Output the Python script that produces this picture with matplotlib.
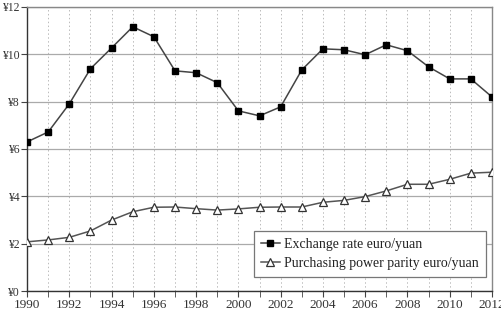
import matplotlib.pyplot as plt
from matplotlib.ticker import MultipleLocator

plt.rcParams['font.family'] = ['Liberation Serif', 'DejaVu Serif']

# data
years = list(range(1990, 2013))
exchange_rate = [6.30, 6.72, 7.91, 9.39, 10.27, 11.16, 10.74, 9.30, 9.22, 8.80, 7.61,
                 7.40, 7.78, 9.34, 10.23, 10.19, 9.98, 10.40, 10.15, 9.47, 8.96, 8.96, 8.20]
ppp = [2.08, 2.16, 2.27, 2.54, 3.00, 3.35, 3.54, 3.55, 3.48, 3.42, 3.47,
       3.54, 3.55, 3.55, 3.75, 3.83, 3.99, 4.23, 4.51, 4.51, 4.72, 4.98, 5.02]
labels = ["Exchange rate euro/yuan", "Purchasing power parity euro/yuan"]

fig = plt.figure(figsize=(5.02, 3.14), dpi=100)
ax = fig.add_axes([0.054, 0.073, 0.926, 0.905])

ax.plot(years, exchange_rate, color='#444444', lw=1.1, marker='s', ms=5,
        mfc='black', mec='black', label=labels[0], zorder=3)
ax.plot(years, ppp, color='#555555', lw=1.1, marker='^', ms=5.8,
        mfc='white', mec='#333333', mew=0.9, label=labels[1], zorder=3)

ax.set_xlim(1990, 2012)
ax.set_ylim(0, 12)
ax.xaxis.set_minor_locator(MultipleLocator(1))
ax.set_yticks(range(0, 13, 2))
ax.set_yticklabels(['¥' + str(v) for v in range(0, 13, 2)], fontsize=8.5, color='#333333')
ax.set_xticks(range(1990, 2013, 2))
ax.set_xticklabels([str(y) for y in range(1990, 2013, 2)], fontsize=9.5, color='#333333')

# grid: solid horizontal, dotted vertical every year
ax.grid(axis='y', which='major', color='#aaaaaa', lw=0.9, ls='-')
for y in years[1:-1]:
    ax.axvline(y, color='#bbbbbb', lw=0.7, ls=(0, (1.5, 2.5)), zorder=0)

ax.tick_params(axis='x', which='both', length=4, direction='out', color='#444444', pad=2)
ax.tick_params(axis='y', length=4, direction='out', color='#444444', pad=1)
for s in ['left', 'bottom']:
    ax.spines[s].set_color('#333333')
    ax.spines[s].set_linewidth(1.0)
for s in ['top', 'right']:
    ax.spines[s].set_color('#888888')
    ax.spines[s].set_linewidth(1.0)

leg = ax.legend(loc='lower right', bbox_to_anchor=(0.987, 0.049), borderaxespad=0,
                fontsize=10, fancybox=False, framealpha=1, edgecolor='#777777',
                handlelength=1.4, handletextpad=0.3, borderpad=0.5, labelspacing=0.45)
leg.get_frame().set_linewidth(0.9)
for t in leg.get_texts():
    t.set_color('#222222')

fig.savefig('out.png', dpi=100)
